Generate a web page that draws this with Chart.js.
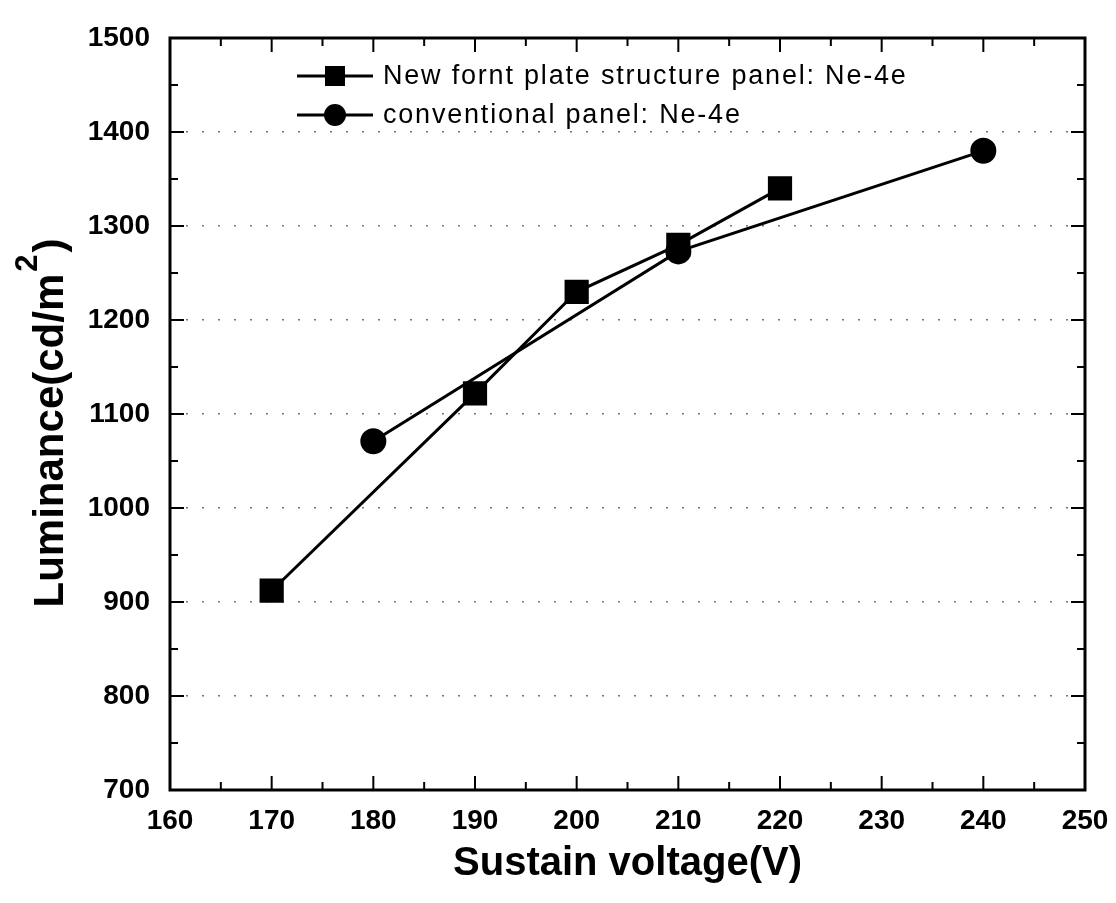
<!DOCTYPE html>
<html>
<head>
<meta charset="utf-8">
<script src="https://cdn.jsdelivr.net/npm/chart.js@4"></script>
<style>
  html, body { margin: 0; padding: 0; background: #fff; }
  #wrap { width: 1116px; height: 903px; }
</style>
</head>
<body>
<div id="wrap"><canvas id="grafico"></canvas></div>
<script>
// dados
const voltsNew = [170, 190, 200, 210, 220];
const lumNew = [912, 1122, 1230, 1280, 1340];
const voltsConv = [180, 210, 240];
const lumConv = [1071, 1273, 1380];
const xTicks = [160, 170, 180, 190, 200, 210, 220, 230, 240, 250];
const yTicks = [700, 800, 900, 1000, 1100, 1200, 1300, 1400, 1500];
const labelNew = 'New fornt plate structure panel: Ne-4e';
const labelConv = 'conventional panel: Ne-4e';
const yTitle = ['Luminance(cd/m', '2', ')'];

const fam = '"Liberation Sans", Arial, sans-serif';
const pad = { left: 20, right: 31, top: 38, bottom: 11 };

// caixa, ticks para dentro, titulo do eixo y e legenda
const framePlugin = {
  id: 'frame',
  afterDraw(chart) {
    const ctx = chart.ctx;
    const a = chart.chartArea;
    const xs = chart.scales.x, ys = chart.scales.y;
    ctx.save();
    ctx.strokeStyle = '#000';
    ctx.lineWidth = 3;
    ctx.strokeRect(a.left, a.top, a.right - a.left, a.bottom - a.top);
    ctx.lineWidth = 2;
    for (let v = 160; v <= 250; v += 5) {
      let len = v % 10 === 0 ? 14 : 8;
      let px = xs.getPixelForValue(v);
      ctx.beginPath();
      ctx.moveTo(px, a.bottom); ctx.lineTo(px, a.bottom - len);
      ctx.moveTo(px, a.top); ctx.lineTo(px, a.top + len);
      ctx.stroke();
    }
    for (let v = 700; v <= 1500; v += 50) {
      let len = v % 100 === 0 ? 14 : 8;
      let py = ys.getPixelForValue(v);
      ctx.beginPath();
      ctx.moveTo(a.left, py); ctx.lineTo(a.left + len, py);
      ctx.moveTo(a.right, py); ctx.lineTo(a.right - len, py);
      ctx.stroke();
    }

    // titulo do eixo y com expoente
    ctx.fillStyle = '#000';
    ctx.translate(48, 423);
    ctx.rotate(-Math.PI / 2);
    ctx.textBaseline = 'alphabetic';
    ctx.font = 'bold 42px ' + fam;
    let w1 = ctx.measureText(yTitle[0]).width;
    let w3 = ctx.measureText(yTitle[2]).width;
    ctx.font = 'bold 31px ' + fam;
    let w2 = ctx.measureText(yTitle[1]).width;
    let x0 = -(w1 + w2 + w3 + 4) / 2;
    ctx.font = 'bold 42px ' + fam;
    ctx.fillText(yTitle[0], x0, 15);
    ctx.fillText(yTitle[2], x0 + w1 + w2 + 4, 15);
    ctx.font = 'bold 31px ' + fam;
    ctx.fillText(yTitle[1], x0 + w1 + 2, -11);
    ctx.setTransform(1, 0, 0, 1, 0, 0);

    // legenda
    const items = chart.data.datasets;
    const lx = 297, ly0 = 76, dy = 39;
    items.forEach((ds, i) => {
      let y = ly0 + i * dy;
      ctx.lineWidth = 3;
      ctx.beginPath();
      ctx.moveTo(lx, y); ctx.lineTo(lx + 76, y);
      ctx.stroke();
      if (ds.pointStyle === 'rect') {
        ctx.fillRect(lx + 38 - 10, y - 10, 20, 20);
      } else {
        ctx.beginPath();
        ctx.arc(lx + 38, y, 11, 0, Math.PI * 2);
        ctx.fill();
      }
      ctx.font = '27px ' + fam;
      ctx.letterSpacing = '1.8px';
      ctx.textBaseline = 'middle';
      ctx.fillText(ds.label, lx + 86, y + 1);
      ctx.letterSpacing = '0px';
    });
    ctx.restore();
  }
};

window.onload = function () {
  let ctx = document.getElementById('grafico').getContext('2d');
  window.grafico = new Chart(ctx, {
    type: 'line',
    data: {
      datasets: [
        {
          label: labelNew,
          data: voltsNew.map((v, i) => ({ x: v, y: lumNew[i] })),
          borderColor: '#000', backgroundColor: '#000',
          borderWidth: 3, pointStyle: 'rect', pointRadius: 15,
          tension: 0
        },
        {
          label: labelConv,
          data: voltsConv.map((v, i) => ({ x: v, y: lumConv[i] })),
          borderColor: '#000', backgroundColor: '#000',
          borderWidth: 3, pointStyle: 'circle', pointRadius: 11.5,
          tension: 0
        }
      ]
    },
    options: {
      responsive: true,
      maintainAspectRatio: false,
      animation: false,
      layout: { padding: pad },
      plugins: { legend: { display: false }, tooltip: { enabled: false } },
      scales: {
        x: {
          type: 'linear', min: 160, max: 250,
          afterBuildTicks: s => { s.ticks = xTicks.map(v => ({ value: v })); },
          afterFit: s => {
            s.height = 903 - 790 - pad.bottom;
            s.paddingLeft = 0; s.paddingRight = 0;
          },
          grid: { display: false, drawTicks: false },
          border: { display: false },
          ticks: {
            color: '#000', padding: 14,
            callback: v => String(v),
            font: { family: fam, size: 28, weight: 'bold' }
          },
          title: {
            display: true, text: 'Sustain voltage(V)', color: '#000',
            padding: { top: 14 },
            font: { family: fam, size: 40, weight: 'bold' }
          }
        },
        y: {
          type: 'linear', min: 700, max: 1500,
          afterBuildTicks: s => { s.ticks = yTicks.map(v => ({ value: v })); },
          afterFit: s => {
            s.width = 170 - pad.left;
            s.paddingTop = 0; s.paddingBottom = 0;
          },
          grid: {
            drawTicks: false, color: '#777', lineWidth: 1.5
          },
          border: { display: false, dash: [2, 14] },
          ticks: {
            color: '#000', padding: 20,
            callback: v => String(v),
            font: { family: fam, size: 28, weight: 'bold' }
          },
          title: { display: false }
        }
      }
    },
    plugins: [framePlugin]
  });
};
</script>
</body>
</html>
